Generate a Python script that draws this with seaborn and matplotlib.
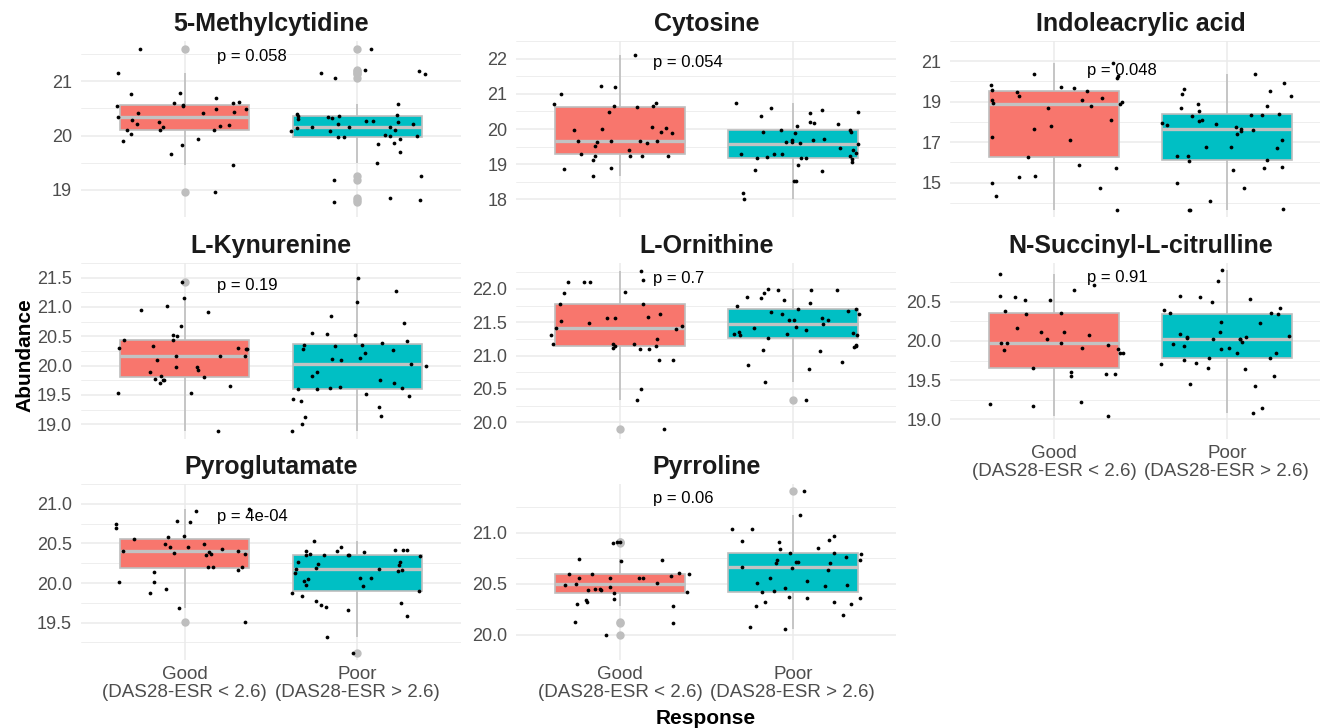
import numpy as np
import pandas as pd
import matplotlib
matplotlib.use("Agg")
import matplotlib.pyplot as plt
import seaborn as sns

# ---- metabolite abundances by treatment response ----
metabolites = ["5-Methylcytidine", "Cytosine", "Indoleacrylic acid",
               "L-Kynurenine", "L-Ornithine", "N-Succinyl-L-citrulline",
               "Pyroglutamate", "Pyrroline"]
p_labels = ["p = 0.058", "p = 0.054", "p = 0.048", "p = 0.19",
            "p = 0.7", "p = 0.91", "p = 4e-04", "p = 0.06"]
response_levels = ["Good\n(DAS28-ESR < 2.6)", "Poor\n(DAS28-ESR > 2.6)"]

methylcytidine_good = [21.6, 21.15, 20.79, 20.69, 20.6, 20.54, 20.55, 20.56, 20.48, 20.6, 20.48,
                       20.76, 20.61, 20.43, 20.41, 20.42, 20.35, 20.28, 20.25, 20.21, 20.18, 20.19,
                       20.16, 20.1, 20.02, 20.1, 20.1, 19.94, 19.9, 19.82, 19.66, 19.46, 18.96]
methylcytidine_poor = [21.59, 21.21, 21.19, 21.13, 21.06, 21.15, 20.59, 20.4, 20.36, 20.36, 20.32,
                       20.31, 20.35, 20.37, 20.22, 20.25, 20.26, 20.26, 20.22, 20.16, 20.15, 20.16,
                       20.13, 20.08, 20.1, 20.09, 20.01, 20.0, 20.0, 19.98, 19.98, 19.94, 19.87,
                       19.84, 19.69, 19.49, 19.25, 19.19, 18.85, 18.82, 18.78]
cytosine_good = [22.1, 21.21, 21.2, 20.99, 20.71, 20.74, 20.64, 20.62, 20.66, 20.47, 20.01, 19.97,
                 19.92, 20.02, 20.05, 19.88, 19.65, 19.61, 19.67, 19.65, 19.62, 19.65, 19.51, 19.41,
                 19.23, 19.24, 19.24, 19.29, 19.23, 19.11, 18.9, 18.87, 18.67]
cytosine_poor = [20.74, 20.61, 20.53, 20.47, 20.46, 20.37, 20.16, 20.21, 20.14, 20.09, 19.97, 19.98,
                 19.92, 19.88, 19.91, 19.72, 19.7, 19.64, 19.68, 19.64, 19.61, 19.56, 19.41, 19.47,
                 19.3, 19.17, 19.29, 19.23, 19.2, 19.16, 19.17, 19.28, 19.33, 19.19, 19.05, 18.99,
                 18.83, 18.81, 18.51, 18.51, 18.19, 18.02]
indoleacrylic_good = [20.92, 20.19, 20.27, 20.39, 19.8, 19.74, 19.53, 19.68, 19.57, 19.5, 19.1,
                      18.95, 19.19, 18.98, 19.3, 19.09, 18.86, 18.8, 18.69, 17.81, 18.07, 17.67,
                      17.25, 17.08, 16.24, 15.89, 15.74, 15.3, 15.27, 14.97, 14.74, 14.36, 13.66]
indoleacrylic_poor = [20.39, 19.94, 19.53, 19.63, 19.36, 19.3, 18.9, 18.77, 18.69, 18.55, 18.34,
                      18.28, 18.34, 18.37, 18.07, 18.04, 17.95, 17.88, 17.85, 17.41, 17.58, 17.73,
                      17.53, 17.64, 17.09, 16.77, 16.7, 16.74, 16.33, 16.29, 16.12, 16.06, 15.73,
                      15.76, 15.6, 14.98, 14.75, 14.09, 13.71, 13.66, 13.66]
kynurenine_good = [21.43, 21.16, 20.95, 21.01, 20.91, 20.67, 20.44, 20.43, 20.52, 20.51, 20.3,
                   20.34, 20.28, 20.3, 20.29, 20.16, 20.17, 20.16, 20.09, 19.93, 19.97, 19.97,
                   19.89, 19.83, 19.81, 19.78, 19.76, 19.75, 19.7, 19.65, 19.53, 19.53, 18.88]
kynurenine_poor = [21.49, 21.28, 21.08, 20.84, 20.72, 20.55, 20.54, 20.52, 20.42, 20.35, 20.34,
                   20.36, 20.38, 20.29, 20.27, 20.21, 20.13, 20.1, 20.12, 20.02, 19.99, 19.83,
                   19.89, 19.75, 19.71, 19.62, 19.62, 19.61, 19.61, 19.64, 19.51, 19.49, 19.43,
                   19.4, 19.29, 19.15, 19.12, 19.0, 18.89]
ornithine_good = [22.27, 22.1, 22.11, 22.14, 22.1, 21.96, 21.94, 21.77, 21.77, 21.63, 21.56, 21.57,
                  21.58, 21.52, 21.49, 21.4, 21.44, 21.42, 21.31, 21.25, 21.12, 21.15, 21.1, 21.17,
                  21.1, 21.17, 21.18, 21.14, 20.93, 20.94, 20.5, 20.34, 19.9]
ornithine_poor = [21.94, 21.98, 21.98, 21.99, 22.0, 21.88, 21.87, 21.83, 21.75, 21.79, 21.67, 21.66,
                  21.7, 21.63, 21.7, 21.63, 21.57, 21.54, 21.53, 21.54, 21.48, 21.41, 21.33, 21.38,
                  21.43, 21.33, 21.31, 21.34, 21.36, 21.31, 21.26, 21.08, 21.13, 21.14, 21.07,
                  21.16, 20.86, 20.91, 20.8, 20.61, 20.33]
succinylcit_good = [20.85, 20.71, 20.65, 20.57, 20.56, 20.52, 20.52, 20.16, 20.34, 20.35, 20.38,
                    20.07, 20.02, 20.11, 20.11, 19.97, 19.95, 19.97, 19.97, 19.9, 19.89, 19.91,
                    19.85, 19.84, 19.66, 19.61, 19.58, 19.55, 19.58, 19.22, 19.2, 19.17, 19.04]
succinylcit_poor = [20.9, 20.76, 20.56, 20.57, 20.54, 20.49, 20.42, 20.39, 20.34, 20.35, 20.36,
                    20.24, 20.23, 20.12, 20.09, 20.06, 20.05, 20.04, 20.02, 20.05, 20.02, 20.02,
                    19.98, 19.96, 19.94, 19.9, 19.91, 19.84, 19.85, 19.78, 19.78, 19.76, 19.72,
                    19.7, 19.66, 19.64, 19.55, 19.45, 19.43, 19.15, 19.08]
pyroglutamate_good = [20.94, 20.91, 20.78, 20.77, 20.74, 20.7, 20.59, 20.58, 20.55, 20.49, 20.49,
                      20.46, 20.45, 20.43, 20.41, 20.41, 20.39, 20.38, 20.37, 20.37, 20.36, 20.2,
                      20.2, 20.2, 20.17, 20.14, 20.01, 20.01, 19.93, 19.87, 19.68, 19.51]
pyroglutamate_poor = [20.53, 20.46, 20.42, 20.41, 20.4, 20.39, 20.42, 20.42, 20.35, 20.34, 20.35,
                      20.35, 20.37, 20.35, 20.27, 20.26, 20.24, 20.23, 20.17, 20.19, 20.18, 20.18,
                      20.15, 20.13, 20.06, 20.05, 20.07, 20.03, 19.97, 19.96, 19.9, 19.88, 19.84,
                      19.77, 19.75, 19.72, 19.7, 19.66, 19.58, 19.32, 19.12]
pyrroline_good = [20.91, 20.91, 20.9, 20.73, 20.74, 20.72, 20.6, 20.58, 20.56, 20.6, 20.56, 20.56,
                  20.61, 20.6, 20.56, 20.51, 20.49, 20.5, 20.47, 20.45, 20.45, 20.44, 20.44, 20.42,
                  20.41, 20.35, 20.34, 20.3, 20.32, 20.28, 20.11, 20.12, 20.0]
pyrroline_poor = [21.41, 21.18, 21.04, 21.04, 20.97, 20.92, 20.91, 20.93, 20.85, 20.84, 20.8, 20.79,
                  20.8, 20.76, 20.71, 20.73, 20.73, 20.7, 20.66, 20.71, 20.7, 20.65, 20.63, 20.56,
                  20.53, 20.51, 20.46, 20.49, 20.48, 20.43, 20.42, 20.36, 20.37, 20.36, 20.32, 20.3,
                  20.28, 20.32, 20.19, 20.07, 20.05]

good_values = [methylcytidine_good, cytosine_good, indoleacrylic_good, kynurenine_good,
               ornithine_good, succinylcit_good, pyroglutamate_good, pyrroline_good]
poor_values = [methylcytidine_poor, cytosine_poor, indoleacrylic_poor, kynurenine_poor,
               ornithine_poor, succinylcit_poor, pyroglutamate_poor, pyrroline_poor]

# y-axis tick values per facet (free y scales)
yticks_list = [[19, 20, 21], [18, 19, 20, 21, 22], [15, 17, 19, 21],
               [19.0, 19.5, 20.0, 20.5, 21.0, 21.5], [20.0, 20.5, 21.0, 21.5, 22.0],
               [19.0, 19.5, 20.0, 20.5], [19.5, 20.0, 20.5, 21.0], [20.0, 20.5, 21.0]]

# ---- styling ----
sns.set_theme(style="white")
plt.rcParams['font.family'] = ['Liberation Sans', 'DejaVu Sans']

fill_colors = ["#F8766D", "#00BFC4"]
box_line = "#BEBEBE"
grid_col = "#EBEBEB"
tick_col = "#4D4D4D"

np.random.seed(11)

W, H = 1320, 728
fig = plt.figure(figsize=(W / 100, H / 100), dpi=100)

col_left = [81, 516.4, 950.4]
row_top = [41, 263, 484]
panel_w, panel_h = 380, 176

show_x = {5, 6, 7}

for i, name in enumerate(metabolites):
    r, c = divmod(i, 3)
    ax = fig.add_axes([col_left[c] / W, 1 - (row_top[r] + panel_h) / H, panel_w / W, panel_h / H])

    g, p = good_values[i], poor_values[i]
    df = pd.DataFrame({
        "Response": [response_levels[0]] * len(g) + [response_levels[1]] * len(p),
        "Abundance": g + p,
    })

    sns.boxplot(data=df, x="Response", y="Abundance", hue="Response",
                order=response_levels, hue_order=response_levels, palette=fill_colors,
                saturation=1, width=0.75, dodge=False, linewidth=1.2, linecolor=box_line,
                showcaps=False,
                flierprops=dict(marker="o", markerfacecolor=box_line, markeredgecolor=box_line,
                                markersize=5),
                medianprops=dict(color="#C2C2C2", linewidth=2.4),
                legend=False, ax=ax)
    sns.stripplot(data=df, x="Response", y="Abundance", order=response_levels,
                  color="black", size=2.7, jitter=0.4, linewidth=0, ax=ax, zorder=3)

    vals = np.array(g + p)
    lo, hi = vals.min(), vals.max()
    rng = hi - lo
    ax.set_ylim(lo - 0.05 * rng, hi + 0.05 * rng)
    ax.set_xlim(-0.6, 1.6)

    ticks = yticks_list[i]
    step = ticks[1] - ticks[0]
    ax.set_yticks(ticks)
    minors = [ticks[0] - step / 2] + [t + step / 2 for t in ticks]
    ax.set_yticks(minors, minor=True)
    if all(float(t).is_integer() for t in ticks):
        ax.set_yticklabels([f"{t:.0f}" for t in ticks])
    else:
        ax.set_yticklabels([f"{t:.1f}" for t in ticks])

    ax.set_axisbelow(True)
    ax.grid(True, which="major", axis="both", color=grid_col, linewidth=1.1)
    ax.grid(True, which="minor", axis="y", color=grid_col, linewidth=0.6)
    for s in ax.spines.values():
        s.set_visible(False)
    ax.tick_params(axis="both", which="both", length=0)
    ax.tick_params(axis="y", labelsize=13, labelcolor=tick_col, pad=6.5)
    ax.tick_params(axis="x", labelsize=13.5, labelcolor=tick_col, pad=4.5)
    ax.set_xlabel("")
    ax.set_ylabel("")
    if i in show_x:
        for lab in ax.get_xticklabels():
            lab.set_linespacing(1.05)
    else:
        ax.tick_params(axis="x", labelbottom=False)

    ax.set_title(name, fontsize=18, fontweight="bold", color="#1A1A1A", pad=7)
    ax.text(0.19, hi, p_labels[i], ha="left", va="top", fontsize=12, color="black", zorder=5)

fig.text(706 / W, 1 - 718 / H, "Response", ha="center", va="center",
         fontsize=15, fontweight="bold", color="black")
fig.text(25 / W, 1 - 355 / H, "Abundance", ha="center", va="center", rotation=90,
         fontsize=15, fontweight="bold", color="black")

fig.savefig("out.png", dpi=100, facecolor="white")
